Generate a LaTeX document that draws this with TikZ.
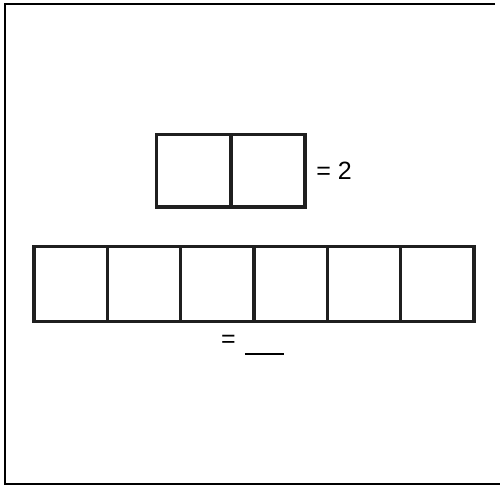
\documentclass[tikz,border=0pt]{standalone}
\usepackage{fontspec}
\setmainfont{Liberation Sans}
\usetikzlibrary{positioning}

\begin{document}
\begin{tikzpicture}[x=1pt,y=1pt,
   cell/.style={draw=black!88,line width=3.3pt,inner sep=0pt,outer sep=0pt},
   topcell/.style={cell,minimum width=74.25pt,minimum height=72.5pt},
   rowcell/.style={cell,minimum width=73.33pt,minimum height=75pt},
   lbl/.style={inner sep=0pt,font=\fontsize{25}{30}\selectfont},
   frame/.style={line width=2pt}]
  \useasboundingbox (0,0) rectangle (500,-485);
  \draw[frame] (495,-4) -- (5,-4) -- (5,-484) -- (500,-484);
  % two cells on top
  \node[topcell] (t1) at (193.75,-170.75) {};
  \node[topcell] (t2) [right=0pt of t1] {};
  \node[lbl] (two) [right=11pt of t2] {= 2};
  % row of six cells
  \node[rowcell] (r1) at (70.67,-284) {};
  \foreach \i [count=\j from 2] in {1,...,5}
    \node[rowcell] (r\j) [right=0pt of r\i] {};
  \node[lbl,anchor=base west] (ans) at (221,-347.5)
    {=\hspace{9pt}\rule[-7.5pt]{39pt}{2.4pt}};
\end{tikzpicture}
\end{document}
